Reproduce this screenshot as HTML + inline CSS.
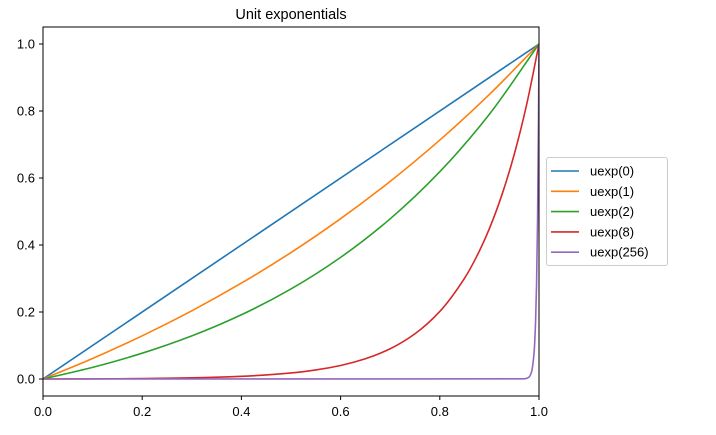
<!DOCTYPE html>
<html><head><meta charset="utf-8"><style>body{margin:0;background:#fff}svg{display:block;font-family:"Liberation Sans","DejaVu Sans",sans-serif}</style></head>
<body>
<svg id="chart" width="716" height="435" viewBox="0 0 716 435" xmlns="http://www.w3.org/2000/svg">
<defs><clipPath id="plotclip"><rect x="43" y="27" width="496" height="369"/></clipPath></defs>
<text x="291" y="19" font-size="14.5" text-anchor="middle">Unit exponentials</text>
<g id="axes"></g><g id="series" clip-path="url(#plotclip)"></g><g id="legend"></g>
<rect x="43" y="27" width="496" height="369" fill="none" stroke="#000" stroke-width="1"/>
</svg>
<script>
const xTicks=[0,0.2,0.4,0.6,0.8,1.0];
const yTicks=[0,0.2,0.4,0.6,0.8,1.0];
const seriesNames=["uexp(0)","uexp(1)","uexp(2)","uexp(8)","uexp(256)"];
const colors=["#1f77b4","#ff7f0e","#2ca02c","#d62728","#9467bd"];
const x0=[0,1];
const y0=[0,1];
const x1=[0,0.1,0.2,0.3,0.4,0.5,0.6,0.7,0.8,0.9,1];
const y1=[0,0.0612,0.1289,0.2036,0.2862,0.3775,0.4785,0.59,0.7132,0.8495,1];
const x2=[0,0.1,0.2,0.3,0.4,0.5,0.6,0.7,0.8,0.9,1];
const y2=[0,0.0347,0.077,0.1287,0.1918,0.2689,0.3631,0.4782,0.6187,0.7904,1];
const x8=[0,0.1,0.2,0.3,0.4,0.5,0.55,0.6,0.65,0.7,0.75,0.8,0.85,0.875,0.9,0.925,0.95,0.975,1];
const y8=[0,0.0004,0.0013,0.0034,0.0079,0.018,0.027,0.0404,0.0605,0.0904,0.1351,0.2016,0.301,0.3677,0.4491,0.5487,0.6702,0.8187,1];
const x256=[0,0.97,0.975,0.98,0.985,0.99,0.993,0.995,0.997,0.999,1];
const y256=[0,0.0005,0.002,0.006,0.0215,0.077,0.167,0.278,0.464,0.774,1];
const X=v=>43+v*496, Y=v=>379-v*335;
const NS="http://www.w3.org/2000/svg";
function mk(t,a,p){const e=document.createElementNS(NS,t);for(const k in a)e.setAttribute(k,a[k]);p.appendChild(e);return e;}
function monotone(xs,ys){
 const n=xs.length;
 if(n<3){return 'M'+X(xs[0])+','+Y(ys[0])+xs.slice(1).map((x,i)=>' L'+X(x)+','+Y(ys[i+1])).join('');}
 const d=[],m=new Array(n);
 for(let i=0;i<n-1;i++)d.push((ys[i+1]-ys[i])/(xs[i+1]-xs[i]));
 m[0]=d[0];m[n-1]=d[n-2];
 for(let i=1;i<n-1;i++){m[i]=(d[i-1]*d[i]<=0)?0:(2*d[i-1]*d[i])/(d[i-1]+d[i]);}
 let s='M'+X(xs[0]).toFixed(2)+','+Y(ys[0]).toFixed(2);
 for(let i=0;i<n-1;i++){
  const h=xs[i+1]-xs[i];
  const c1x=xs[i]+h/3,c1y=ys[i]+m[i]*h/3,c2x=xs[i+1]-h/3,c2y=ys[i+1]-m[i+1]*h/3;
  s+=' C'+X(c1x).toFixed(2)+','+Y(c1y).toFixed(2)+' '+X(c2x).toFixed(2)+','+Y(c2y).toFixed(2)+' '+X(xs[i+1]).toFixed(2)+','+Y(ys[i+1]).toFixed(2);
 }
 return s;
}
const axes=document.getElementById('axes');
xTicks.forEach(v=>{
 const l=mk('line',{x1:X(v),x2:X(v),y1:396,y2:400,stroke:'#000'},axes);
 
 
 const t=mk('text',{x:X(v),y:416,'font-size':13,'text-anchor':'middle'},axes);t.textContent=v.toFixed(1);
 
 
});
yTicks.forEach(v=>{
 const l=mk('line',{x1:39,x2:43,y1:Y(v),y2:Y(v),stroke:'#000'},axes);
 
 
 const t=mk('text',{x:35,y:Y(v)+4.5,'font-size':13,'text-anchor':'end'},axes);t.textContent=v.toFixed(1);
 
 
});
const data=[[x0,y0],[x1,y1],[x2,y2],[x8,y8],[x256,y256]];
const sg=document.getElementById('series');
data.forEach((d,i)=>{
 const p=mk('path',{d:monotone(d[0],d[1]),fill:'none',stroke:colors[i],'stroke-width':1.6,'stroke-linejoin':'round'},sg);
 
 
});
const lg=document.getElementById('legend');
const box=mk('rect',{x:546.5,y:157.5,width:121,height:108,rx:2.5,fill:'#fff','fill-opacity':0.8,stroke:'#ccc'},lg);


seriesNames.forEach((n,i)=>{
 const y=171+i*20.3;
 const l=mk('line',{x1:551,x2:579,y1:y,y2:y,stroke:colors[i],'stroke-width':1.6},lg);
 
 
 const t=mk('text',{x:590,y:y+4.5,'font-size':13},lg);t.textContent=n;
 
 
});
</script>
</body></html>
